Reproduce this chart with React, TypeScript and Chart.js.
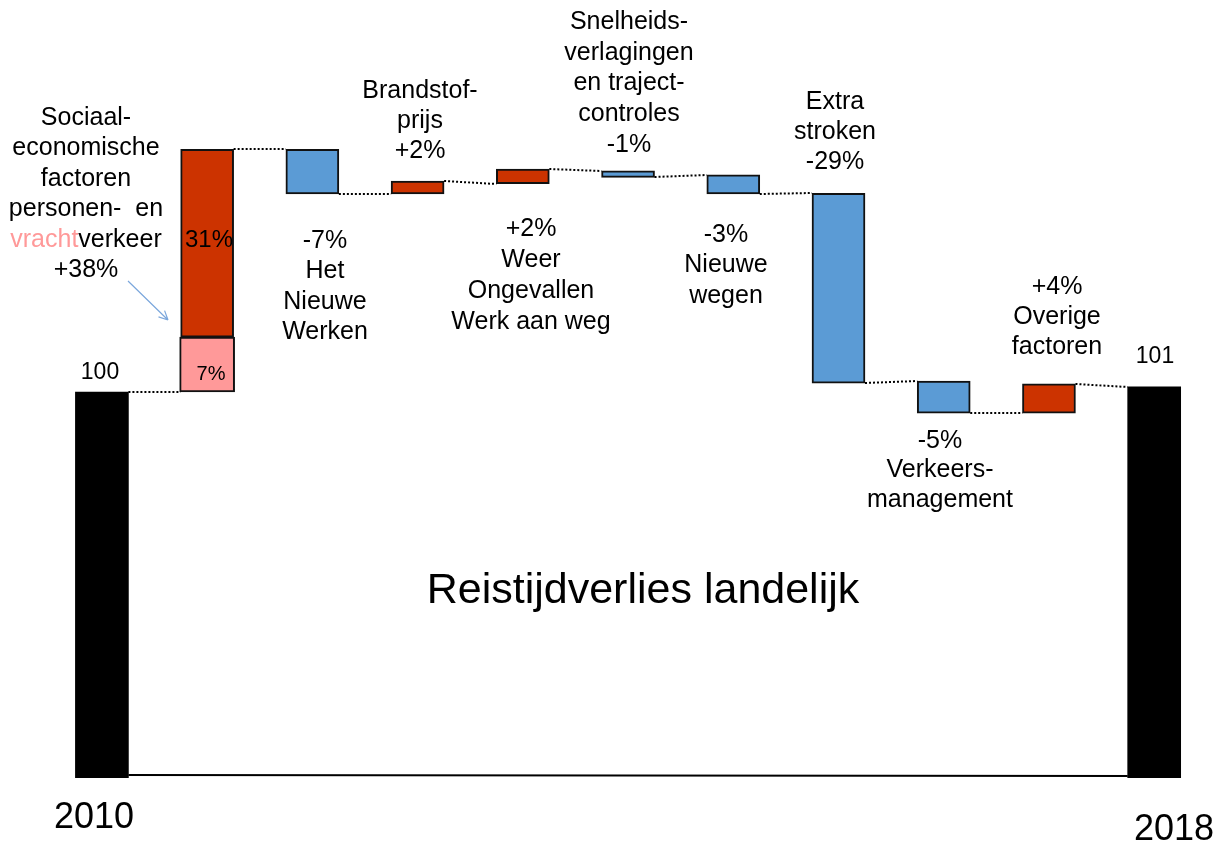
import React, { useEffect, useRef } from "react";
import { Chart, registerables } from "chart.js";

Chart.register(...registerables);

// ---------- data ----------
const categories = [
  "2010",
  "Sociaal-economische factoren",
  "Het Nieuwe Werken",
  "Brandstofprijs",
  "Weer / Ongevallen / Werk aan weg",
  "Snelheidsverlagingen en trajectcontroles",
  "Nieuwe wegen",
  "Extra stroken",
  "Verkeersmanagement",
  "Overige factoren",
  "2018",
];
const kinds = ["total", "up", "down", "up", "up", "down", "down", "down", "down", "up", "total"];
// level where each step starts and ends (index = 100 in 2010)
const startLevels = [null, 100, 138, 131, 132.6, 134.6, 134.0, 131.1, 101.7, 96.7, null];
const endLevels = [100, 138, 131, 133, 134.9, 133.6, 131.0, 101.4, 96.7, 101.3, 100.8];
// top of the freight ("vracht") part of the socio-economic bar
const freightTop = 108.6;

const Y_MIN = 39.6;
const Y_MAX = 161.35;

const COLORS: Record<string, string> = {
  total: "#000000",
  up: "#CC3300",
  down: "#5B9BD5",
  freight: "#FF9999",
};

const FONT = '"Liberation Sans", Arial, Helvetica, sans-serif';

type Part = [string, string];
type Line = string | Part[];
interface TextBlock {
  x: number;
  y: number;
  size: number;
  lh?: number;
  lines: Line[];
}

const textBlocks: TextBlock[] = [
  {
    x: 86, y: 118, size: 25, lh: 30.5,
    lines: ["Sociaal-", "economische", "factoren", "personen-  en", [["vracht", "#FF9999"], ["verkeer", "#000000"]], "+38%"],
  },
  { x: 209, y: 240, size: 24, lines: ["31%"] },
  { x: 211, y: 374, size: 20, lines: ["7%"] },
  { x: 100, y: 373, size: 23, lines: ["100"] },
  { x: 420, y: 91, size: 25, lh: 30, lines: ["Brandstof-", "prijs", "+2%"] },
  { x: 629, y: 22, size: 25, lh: 30.8, lines: ["Snelheids-", "verlagingen", "en traject-", "controles", "-1%"] },
  { x: 835, y: 102, size: 25, lh: 30, lines: ["Extra", "stroken", "-29%"] },
  { x: 1057, y: 287, size: 25, lh: 30, lines: ["+4%", "Overige", "factoren"] },
  { x: 1155, y: 357, size: 23, lines: ["101"] },
  { x: 325, y: 241, size: 25, lh: 30.5, lines: ["-7%", "Het", "Nieuwe", "Werken"] },
  { x: 531, y: 229, size: 25, lh: 31, lines: ["+2%", "Weer", "Ongevallen", "Werk aan weg"] },
  { x: 726, y: 235, size: 25, lh: 30.5, lines: ["-3%", "Nieuwe", "wegen"] },
  { x: 940, y: 441, size: 25, lh: 29.5, lines: ["-5%", "Verkeers-", "management"] },
  { x: 643, y: 591, size: 43, lines: ["Reistijdverlies landelijk"] },
  { x: 94, y: 818, size: 36, lines: ["2010"] },
  { x: 1174, y: 830, size: 36, lines: ["2018"] },
];

const arrow = { x1: 128, y1: 281, x2: 168, y2: 320, color: "#7BA7DC" };

// ---------- derived chart data ----------
const mainData = categories.map((_, i) => {
  if (kinds[i] === "total") return [Y_MIN, endLevels[i] as number];
  const s = (i === 1 ? freightTop : startLevels[i]) as number;
  const e = endLevels[i] as number;
  return [Math.min(s, e), Math.max(s, e)];
});
const freightData = categories.map((_, i) => (i === 1 ? [startLevels[1] as number, freightTop] : null));

const drawPlugin = {
  id: "waterfallDecor",
  afterDatasetsDraw(chart: any) {
    const ctx: CanvasRenderingContext2D = chart.ctx;
    const y = chart.scales.y;
    const meta = chart.getDatasetMeta(0);
    const els = meta.data;

    // dotted connectors
    ctx.save();
    ctx.strokeStyle = "#000";
    ctx.lineWidth = 2;
    ctx.setLineDash([2, 2]);
    for (let i = 0; i < els.length - 1; i++) {
      const a = els[i];
      const b = els[i + 1];
      const fromLevel = endLevels[i] as number;
      const toLevel = (kinds[i + 1] === "total" ? endLevels[i + 1] : startLevels[i + 1]) as number;
      const x1 = a.x + a.width / 2;
      const x2 = b.x - b.width / 2;
      ctx.beginPath();
      ctx.moveTo(x1, Math.round(y.getPixelForValue(fromLevel)));
      ctx.lineTo(x2, Math.round(y.getPixelForValue(toLevel)));
      ctx.stroke();
    }
    ctx.restore();

    // baseline between the two totals
    ctx.save();
    ctx.strokeStyle = "#000";
    ctx.lineWidth = 2;
    const first = els[0];
    const last = els[els.length - 1];
    const by = y.getPixelForValue(Y_MIN) - 2;
    ctx.beginPath();
    ctx.moveTo(first.x + first.width / 2, by - 1);
    ctx.lineTo(last.x - last.width / 2, by);
    ctx.stroke();
    ctx.restore();

    // arrow
    ctx.save();
    ctx.strokeStyle = arrow.color;
    ctx.lineWidth = 1.2;
    ctx.beginPath();
    ctx.moveTo(arrow.x1, arrow.y1);
    ctx.lineTo(arrow.x2, arrow.y2);
    const ang = Math.atan2(arrow.y2 - arrow.y1, arrow.x2 - arrow.x1);
    const hl = 10;
    ctx.moveTo(arrow.x2, arrow.y2);
    ctx.lineTo(arrow.x2 - hl * Math.cos(ang - 0.45), arrow.y2 - hl * Math.sin(ang - 0.45));
    ctx.moveTo(arrow.x2, arrow.y2);
    ctx.lineTo(arrow.x2 - hl * Math.cos(ang + 0.45), arrow.y2 - hl * Math.sin(ang + 0.45));
    ctx.stroke();
    ctx.restore();

    // texts
    ctx.save();
    ctx.textBaseline = "middle";
    for (const b of textBlocks) {
      ctx.font = `${b.size}px ${FONT}`;
      const lh = b.lh ?? b.size * 1.2;
      b.lines.forEach((line, k) => {
        const ly = b.y + k * lh;
        if (typeof line === "string") {
          ctx.textAlign = "center";
          ctx.fillStyle = "#000";
          ctx.fillText(line, b.x, ly);
        } else {
          const total = line.reduce((s, p) => s + ctx.measureText(p[0]).width, 0);
          let x = b.x - total / 2;
          ctx.textAlign = "left";
          for (const [t, c] of line) {
            ctx.fillStyle = c;
            ctx.fillText(t, x, ly);
            x += ctx.measureText(t).width;
          }
        }
      });
    }
    ctx.restore();
  },
};

export default function App() {
  const ref = useRef<HTMLCanvasElement | null>(null);

  useEffect(() => {
    if (!ref.current) return;
    const chart = new Chart(ref.current, {
      type: "bar",
      data: {
        labels: categories,
        datasets: [
          {
            label: "Reistijdverlies",
            data: mainData as any,
            backgroundColor: kinds.map((k) => COLORS[k]),
            borderColor: kinds.map((k) => (k === "total" ? COLORS.total : "#111111")),
            borderWidth: kinds.map((k) => (k === "total" ? 0 : 2)),
            borderSkipped: false,
            barThickness: 53,
            grouped: false,
          } as any,
          {
            label: "vrachtverkeer",
            data: freightData as any,
            backgroundColor: COLORS.freight,
            borderColor: "#111111",
            borderWidth: 2,
            borderSkipped: false,
            barThickness: 55,
            grouped: false,
          } as any,
        ],
      },
      options: {
        responsive: false,
        animation: false,
        layout: { padding: { left: 49.3, right: 12.2, top: 0, bottom: 65 } },
        plugins: {
          legend: { display: false },
          tooltip: { enabled: false },
          title: { display: false },
        },
        scales: {
          x: { display: false, offset: true, grid: { display: false } },
          y: { display: false, min: Y_MIN, max: Y_MAX, grid: { display: false } },
        },
      },
      plugins: [drawPlugin],
    });
    return () => chart.destroy();
  }, []);

  return (
    <div style={{ position: "fixed", left: 0, top: 0, width: 1219, height: 843, background: "#fff" }}>
      <canvas ref={ref} width={1219} height={843} style={{ display: "block" }} />
    </div>
  );
}
